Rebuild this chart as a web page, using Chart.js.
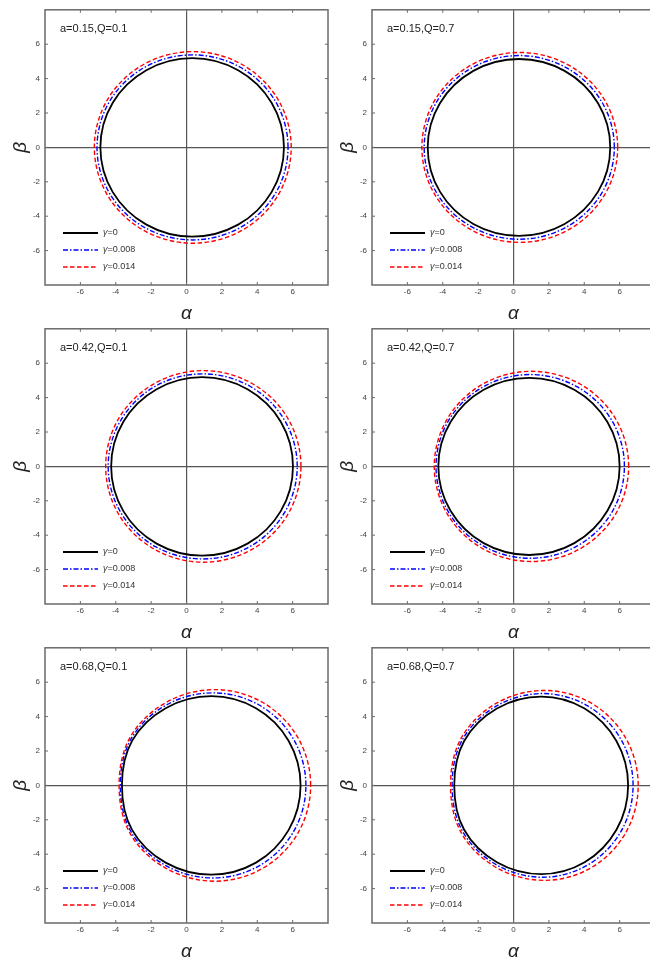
<!DOCTYPE html>
<html>
<head>
<meta charset="utf-8">
<script src="https://cdn.jsdelivr.net/npm/chart.js@4.4.1/dist/chart.umd.min.js"></script>
<style>
  html, body { margin: 0; padding: 0; background: #fff; }
  body { width: 650px; height: 964px; overflow: hidden; position: relative; font-family: 'Liberation Sans', Arial, sans-serif; }
  .panel { position: absolute; width: 330px; height: 325px; }
  .panel canvas { position: absolute; left: 0; top: 0; }
  .tag { position: absolute; left: 60px; top: 23px; font-size: 11px; line-height: 11px; color: #222; white-space: nowrap; }
  .key { position: absolute; left: 63px; top: 226px; font-size: 9px; color: #333; }
  .key div { height: 17px; line-height: 12px; white-space: nowrap; }
  .key svg { vertical-align: middle; margin-right: 5px; }
</style>
</head>
<body>
<script>
// panel captions and legend entries
const panelLabels = ['a=0.15,Q=0.1', 'a=0.15,Q=0.7', 'a=0.42,Q=0.1', 'a=0.42,Q=0.7', 'a=0.68,Q=0.1', 'a=0.68,Q=0.7'];
const gammaValues = ['0', '0.008', '0.014'];
const tickValues = [-6, -4, -2, 0, 2, 4, 6];

// shadow outlines: [gamma=0, gamma=0.008, gamma=0.014]
const a015q01Alpha = [
    [5.51, 4.81, 2.92, 0.32, -2.27, -4.17, -4.87, -4.17, -2.27, 0.32, 2.92, 4.81],
    [5.74, 5.02, 3.04, 0.34, -2.36, -4.34, -5.06, -4.34, -2.36, 0.34, 3.04, 5.02],
    [5.92, 5.17, 3.14, 0.36, -2.43, -4.46, -5.21, -4.46, -2.43, 0.36, 3.14, 5.17]
];
const a015q01Beta = [
    [0, 2.60, 4.49, 5.19, 4.49, 2.60, 0, -2.60, -4.49, -5.19, -4.49, -2.60],
    [0, 2.69, 4.66, 5.38, 4.66, 2.69, 0, -2.69, -4.66, -5.38, -4.66, -2.69],
    [0, 2.79, 4.82, 5.57, 4.82, 2.79, 0, -2.79, -4.82, -5.57, -4.82, -2.79]
];

const a015q07Alpha = [
    [5.47, 4.78, 2.89, 0.31, -2.27, -4.16, -4.85, -4.16, -2.27, 0.31, 2.89, 4.78],
    [5.70, 4.98, 3.01, 0.33, -2.36, -4.33, -5.05, -4.33, -2.36, 0.33, 3.01, 4.98],
    [5.89, 5.15, 3.12, 0.36, -2.41, -4.44, -5.18, -4.44, -2.41, 0.36, 3.12, 5.15]
];
const a015q07Beta = [
    [0, 2.57, 4.45, 5.14, 4.45, 2.57, 0, -2.57, -4.45, -5.14, -4.45, -2.57],
    [0, 2.67, 4.62, 5.34, 4.62, 2.67, 0, -2.67, -4.62, -5.34, -4.62, -2.67],
    [0, 2.76, 4.78, 5.52, 4.78, 2.76, 0, -2.76, -4.78, -5.52, -4.78, -2.76]
];

const a042q01Alpha = [
    [6.02, 5.33, 3.45, 0.88, -1.69, -3.57, -4.26, -3.57, -1.69, 0.88, 3.45, 5.33],
    [6.26, 5.54, 3.59, 0.92, -1.76, -3.71, -4.43, -3.71, -1.76, 0.92, 3.59, 5.54],
    [6.47, 5.73, 3.71, 0.95, -1.81, -3.83, -4.57, -3.83, -1.81, 0.95, 3.71, 5.73]
];
const a042q01Beta = [
    [0, 2.60, 4.49, 5.19, 4.49, 2.60, 0, -2.60, -4.49, -5.19, -4.49, -2.60],
    [0, 2.69, 4.66, 5.38, 4.66, 2.69, 0, -2.69, -4.66, -5.38, -4.66, -2.69],
    [0, 2.79, 4.82, 5.57, 4.82, 2.79, 0, -2.79, -4.82, -5.57, -4.82, -2.79]
];

const a042q07Alpha = [
    [6.00, 5.31, 3.44, 0.88, -1.69, -3.56, -4.25, -3.56, -1.69, 0.88, 3.44, 5.31],
    [6.27, 5.56, 3.61, 0.95, -1.72, -3.67, -4.38, -3.67, -1.72, 0.95, 3.61, 5.56],
    [6.51, 5.77, 3.76, 1.02, -1.73, -3.74, -4.48, -3.74, -1.73, 1.02, 3.76, 5.77]
];
const a042q07Beta = [
    [0, 2.58, 4.46, 5.15, 4.46, 2.58, 0, -2.58, -4.46, -5.15, -4.46, -2.58],
    [0, 2.67, 4.62, 5.34, 4.62, 2.67, 0, -2.67, -4.62, -5.34, -4.62, -2.67],
    [0, 2.77, 4.79, 5.53, 4.79, 2.77, 0, -2.77, -4.79, -5.53, -4.79, -2.77]
];

const a068q01Alpha = [
    [6.45, 5.77, 3.93, 1.40, -1.18, -3.07, -3.65, -3.07, -1.18, 1.40, 3.93, 5.77],
    [6.75, 6.05, 4.13, 1.51, -1.17, -3.14, -3.74, -3.14, -1.17, 1.51, 4.13, 6.05],
    [7.02, 6.29, 4.31, 1.61, -1.16, -3.19, -3.81, -3.19, -1.16, 1.61, 4.31, 6.29]
];
const a068q01Beta = [
    [0, 2.60, 4.49, 5.19, 4.49, 2.60, 0, -2.60, -4.49, -5.19, -4.49, -2.60],
    [0, 2.69, 4.66, 5.38, 4.66, 2.69, 0, -2.69, -4.66, -5.38, -4.66, -2.69],
    [0, 2.79, 4.82, 5.57, 4.82, 2.79, 0, -2.79, -4.82, -5.57, -4.82, -2.79]
];

const a068q07Alpha = [
    [6.48, 5.82, 4.02, 1.57, -0.94, -2.79, -3.35, -2.79, -0.94, 1.57, 4.02, 5.82],
    [6.76, 6.08, 4.20, 1.65, -0.96, -2.88, -3.47, -2.88, -0.96, 1.65, 4.20, 6.08],
    [7.05, 6.34, 4.40, 1.75, -0.96, -2.95, -3.56, -2.95, -0.96, 1.75, 4.40, 6.34]
];
const a068q07Beta = [
    [0, 2.58, 4.47, 5.16, 4.47, 2.58, 0, -2.58, -4.47, -5.16, -4.47, -2.58],
    [0, 2.67, 4.62, 5.34, 4.62, 2.67, 0, -2.67, -4.62, -5.34, -4.62, -2.67],
    [0, 2.76, 4.78, 5.52, 4.78, 2.76, 0, -2.76, -4.78, -5.52, -4.78, -2.76]
];

const panelAlpha = [a015q01Alpha, a015q07Alpha, a042q01Alpha, a042q07Alpha, a068q01Alpha, a068q07Alpha];
const panelBeta = [a015q01Beta, a015q07Beta, a042q01Beta, a042q07Beta, a068q01Beta, a068q07Beta];

// line styles
const curveColors = ['#000000', '#0000ff', '#ff0000'];
const curveWidths = [1.8, 1.4, 1.4];
const curveDashes = [[], [5, 2, 1.5, 2], [4.5, 2.5]];

// Draws the gray frame with small inward ticks (Mathematica look)
const framePlugin = {
    id: 'frame',
    afterDraw(chart) {
        const { ctx, chartArea: { left, right, top, bottom }, scales: { x, y } } = chart;
        ctx.save();
        ctx.strokeStyle = '#6a6a6a';
        ctx.lineWidth = 1.5;
        ctx.strokeRect(left, top, right - left, bottom - top);
        ctx.lineWidth = 1;
        ctx.beginPath();
        tickValues.forEach(v => {
            const px = x.getPixelForValue(v);
            const py = y.getPixelForValue(v);
            ctx.moveTo(px, bottom); ctx.lineTo(px, bottom - 3);
            ctx.moveTo(px, top); ctx.lineTo(px, top + 3);
            ctx.moveTo(left, py); ctx.lineTo(left + 3, py);
            ctx.moveTo(right, py); ctx.lineTo(right - 3, py);
        });
        ctx.stroke();
        ctx.restore();
    }
};

function legendSample(k) {
    const dash = curveDashes[k].length ? `stroke-dasharray="${curveDashes[k].join(' ')}"` : '';
    return `<svg width="35" height="6"><line x1="0" y1="3" x2="35" y2="3" stroke="${curveColors[k]}" stroke-width="${curveWidths[k]}" ${dash}/></svg>`;
}

function axisOptions(titleText, isX) {
    return {
        type: 'linear',
        min: -8,
        max: 8,
        afterBuildTicks: scale => { scale.ticks = tickValues.map(v => ({ value: v })); },
        afterFit: scale => {
            if (isX) scale.height = 40;
            else scale.width = 45;
        },
        border: { display: false },
        grid: {
            drawTicks: false,
            lineWidth: 1.2,
            color: c => (c.tick && c.tick.value === 0 ? '#555' : 'rgba(0,0,0,0)')
        },
        ticks: {
            color: '#444',
            font: { family: "'Liberation Sans', Arial, sans-serif", size: 8 },
            padding: isX ? 2 : 5,
            maxRotation: 0
        },
        title: {
            display: true,
            text: titleText,
            color: '#222',
            font: { family: "'Liberation Sans', Arial, sans-serif", size: 19, style: 'italic' },
            padding: isX ? { top: 0, bottom: 0 } : { top: 9, bottom: 0 }
        }
    };
}

panelLabels.forEach((label, p) => {
    const col = p % 2;
    const row = Math.floor(p / 2);

    const box = document.createElement('div');
    box.className = 'panel';
    box.style.left = (col * 327) + 'px';
    box.style.top = (row * 319) + 'px';

    const canvas = document.createElement('canvas');
    canvas.width = 330;
    canvas.height = 325;
    box.appendChild(canvas);

    const tag = document.createElement('div');
    tag.className = 'tag';
    tag.textContent = label;
    box.appendChild(tag);

    const key = document.createElement('div');
    key.className = 'key';
    key.innerHTML = gammaValues.map((g, k) =>
        `<div>${legendSample(k)}<i>γ</i>=${g}</div>`).join('');
    box.appendChild(key);

    document.body.appendChild(box);

    const datasets = panelAlpha[p].map((xs, k) => {
        const ys = panelBeta[p][k];
        const n = xs.length;
        // wrap the closed outline: one extra point on each side so the
        // spline is smooth at the seam; the two wrap segments are hidden
        const order = [n - 1];
        for (let i = 0; i < n; i++) order.push(i);
        order.push(0, 1);
        const pts = order.map(i => ({ x: xs[i], y: ys[i] }));
        return {
            label: 'γ=' + gammaValues[k],
            data: pts,
            showLine: true,
            borderColor: curveColors[k],
            borderWidth: curveWidths[k],
            borderDash: curveDashes[k],
            pointRadius: 0,
            tension: 0.35,
            fill: false,
            order: 2 - k,
            segment: {
                borderColor: c => (c.p0DataIndex === 0 || c.p0DataIndex === n + 1 ? 'rgba(0,0,0,0)' : undefined)
            }
        };
    });

    new Chart(canvas, {
        type: 'scatter',
        data: { datasets: datasets },
        options: {
            responsive: false,
            animation: false,
            devicePixelRatio: 1,
            layout: { padding: { top: 3, right: 2, left: 0, bottom: 0 } },
            plugins: { legend: { display: false }, tooltip: { enabled: false } },
            scales: {
                x: axisOptions('α', true),
                y: axisOptions('β', false)
            }
        },
        plugins: [framePlugin]
    });
});
</script>
</body>
</html>
